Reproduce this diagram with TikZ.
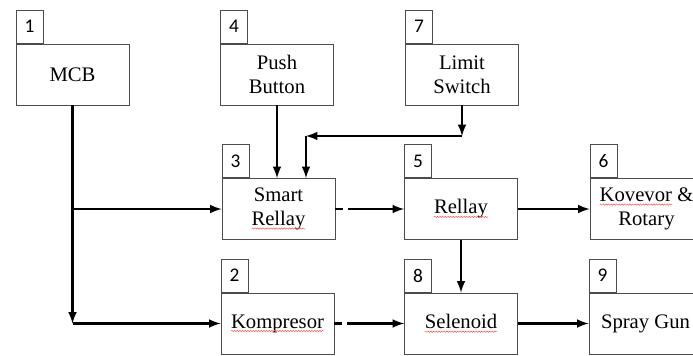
\documentclass[tikz,border=0pt]{standalone}
\usepackage{fontspec}
\setmainfont{Liberation Serif}
\newfontfamily\numfont{Carlito}
\usetikzlibrary{decorations.pathmorphing}
% red spell-check wave under a word
\newcommand\spell[1]{\tikz[baseline=(w.base)]{\node[draw=none, minimum width=0pt, minimum height=0pt,
    inner sep=0pt, outer sep=0pt, anchor=base] (w) {#1};
  \draw[red!70, line width=0.35pt, decorate, decoration={snake, amplitude=0.5pt, segment length=2pt}]
    ([yshift=-2.2pt]w.base west) -- ([yshift=-2.2pt]w.base east);}}
\tikzset{
  box/.style={draw=gray!60!black, line width=0.7pt, minimum width=84.75pt, minimum height=45.75pt,
    align=center, inner sep=0pt, font=\fontsize{15.5}{18}\selectfont},
  tab/.style={draw=gray!60!black, line width=0.7pt, minimum width=20.25pt, minimum height=24.75pt,
    inner sep=0pt, anchor=south west, font=\numfont\fontsize{14.5}{16}\selectfont},
  link/.style={->, line width=1.9pt},
  gap/.style={dash pattern=on 6pt off 3.5pt on 200pt}
}
\begin{document}
\begin{tikzpicture}[>=latex, x=0.75pt, y=-0.75pt]
\useasboundingbox (0,0) rectangle (693,356);
\clip (0,0) rectangle (693,356);
% top row
\node[box] (mcb) at (72.5,74.5) {MCB};
\node[box] (push) at (277,74.5) {Push\\Button};
\node[box] (limit) at (462,74.5) {Limit\\Switch};
% middle row
\node[box] (smart) at (278.5,209) {Smart\\\spell{Rellay}};
\node[box] (rellay) at (461,209) {\spell{Rellay}};
\node[box] (kov) at (646.5,209) {\spell{Kovevor} \&\\Rotary};
% bottom row
\node[box] (komp) at (277.5,323.5) {\spell{Kompresor}};
\node[box] (sel) at (461,323.5) {\spell{Selenoid}};
\node[box] (spray) at (645.5,323.5) {Spray Gun};
% number tabs
\foreach \b/\n in {mcb/1, push/4, limit/7, smart/3, rellay/5, kov/6, komp/2, sel/8, spray/9}
  \node[tab] (t\n) at (\b.north west) {\n};
% MCB feeds
\coordinate (j1) at (mcb.south |- smart.west);
\coordinate (c1) at (mcb.south |- komp.west);
\draw[line width=1.9pt] (mcb.south) -- (j1);
\draw[link] (j1) -- (smart.west);
\draw[link] (j1) -- (c1);
\draw[link] (c1) -- (komp.west);
% push button and limit switch
\draw[link] (push.south) -- (push.south |- smart.north);
\coordinate (c2) at (limit.south |- 0,136);
\coordinate (c3) at (306,136);
\draw[link] (limit.south) -- (c2);
\draw[link] (c2) -- (c3);
\draw[link] (c3) -- (c3 |- smart.north);
% chain
\draw[link, gap] (smart.east) -- (rellay.west);
\draw[link] (rellay.east) -- (kov.west);
\draw[link] (rellay.south) -- (sel.north);
\draw[link, gap] (komp.east) -- (sel.west);
\draw[link] (sel.east) -- (spray.west);
\end{tikzpicture}
\end{document}
